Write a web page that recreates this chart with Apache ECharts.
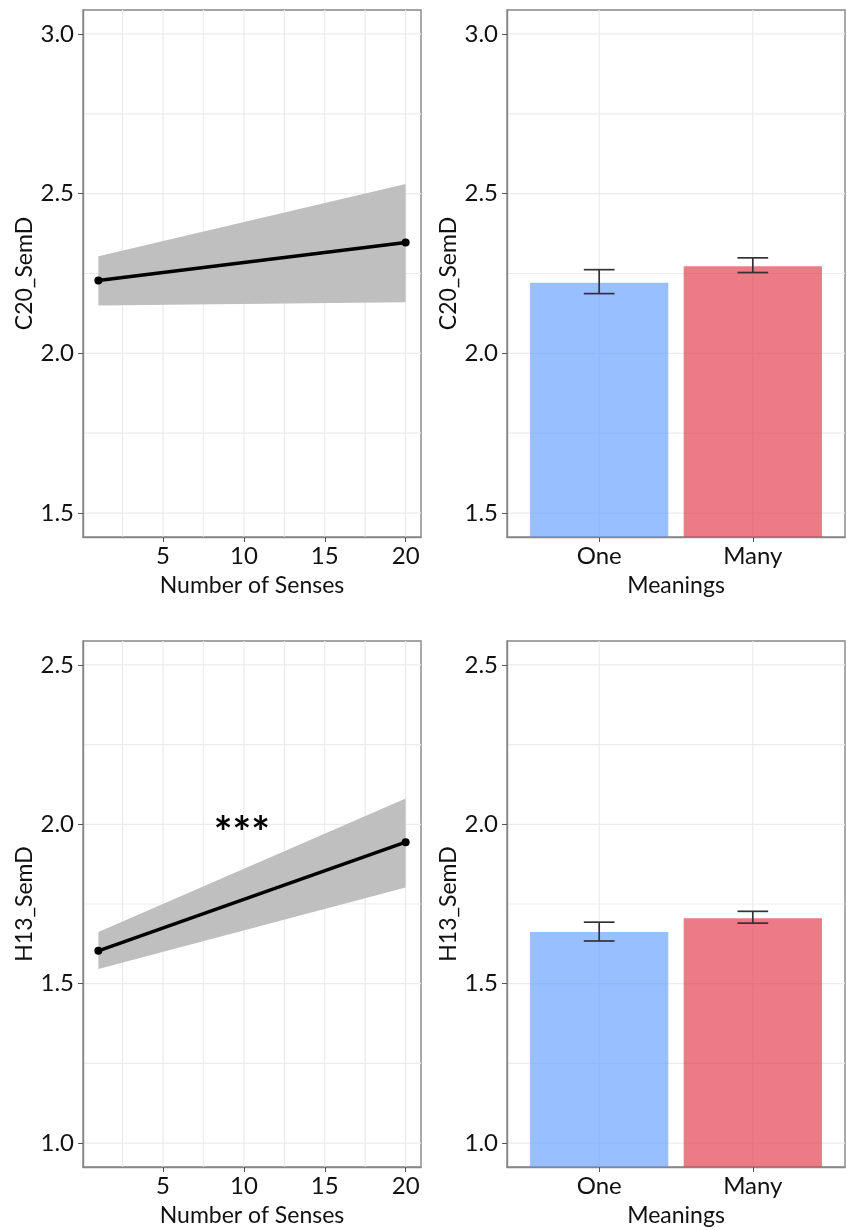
<!DOCTYPE html>
<html><head><meta charset="utf-8">
<script src="https://cdn.jsdelivr.net/npm/echarts@6/dist/echarts.min.js"></script>
<style>html,body{margin:0;padding:0;background:#fff}#c{width:847px;height:1230px}</style>
</head><body><div id="c"></div>
<script>
// ---------- data ----------
const sensesX = [1, 20];
const c20Fit = [2.228, 2.347];
const c20Lower = [2.150, 2.160];
const c20Upper = [2.304, 2.530];
const h13Fit = [1.603, 1.944];
const h13Lower = [1.546, 1.802];
const h13Upper = [1.662, 2.081];

const meanings = ['One', 'Many'];
const meaningPos = [1, 2];
const c20Mean = [2.221, 2.273];
const c20ErrLow = [2.187, 2.253];
const c20ErrHigh = [2.262, 2.299];
const h13Mean = [1.662, 1.705];
const h13ErrLow = [1.634, 1.690];
const h13ErrHigh = [1.693, 1.727];

const sensesTicks = [5, 10, 15, 20];
const sensesGrid = [2.5, 5, 7.5, 10, 12.5, 15, 17.5, 20];
const c20Ticks = [1.5, 2.0, 2.5, 3.0];
const c20Grid = [1.5, 1.75, 2.0, 2.25, 2.5, 2.75, 3.0];
const h13Ticks = [1.0, 1.5, 2.0, 2.5];
const h13Grid = [1.0, 1.25, 1.5, 1.75, 2.0, 2.25, 2.5];

const annotX = [10];
const annotY = [2.0];
const annotText = ['***'];

// ---------- styles ----------
const FONT = 'Lato';
const barColors = ['rgba(97,156,255,0.65)', 'rgba(226,52,69,0.65)'];
const gridColor = '#ebebeb';
const frameColor = '#878787';
const textColor = '#111';

function xAxisDef(gi, min, max, ticks, name, fmt) {
  return {
    type: 'value', gridIndex: gi, min: min, max: max, z: 10,
    name: name, nameLocation: 'middle', nameGap: 37,
    nameTextStyle: { fontFamily: FONT, fontSize: 23, color: textColor },
    axisLine: { show: true, lineStyle: { color: frameColor, width: 1.4 } },
    axisTick: { show: true, length: 5, customValues: ticks, lineStyle: { color: '#555', width: 1 } },
    axisLabel: { customValues: ticks, margin: 7, fontFamily: FONT, fontSize: 24, color: textColor, formatter: fmt },
    splitLine: { show: false }
  };
}
function yAxisDef(gi, min, max, ticks, name) {
  return {
    type: 'value', gridIndex: gi, min: min, max: max, z: 10,
    name: name, nameLocation: 'middle', nameGap: 47, nameRotate: 90,
    nameTextStyle: { fontFamily: FONT, fontSize: 23, color: textColor },
    axisLine: { show: true, lineStyle: { color: frameColor, width: 1.4 } },
    axisTick: { show: true, length: 5, customValues: ticks, lineStyle: { color: '#555', width: 1 } },
    axisLabel: { customValues: ticks, margin: 9, fontFamily: FONT, fontSize: 24, color: textColor,
      formatter: v => Number(v).toFixed(1) },
    splitLine: { show: false }
  };
}

function vGrid(ai, values) {
  return {
    type: 'custom', xAxisIndex: ai, yAxisIndex: ai, silent: true, z: 1,
    data: values.map(v => [v]), encode: { x: 0 },
    renderItem: function (params, api) {
      const cs = params.coordSys;
      const x = api.coord([api.value(0), 0])[0];
      return { type: 'line', shape: { x1: x, y1: cs.y, x2: x, y2: cs.y + cs.height },
        style: { stroke: gridColor, lineWidth: 1.2 } };
    }
  };
}
function hGrid(ai, values) {
  return {
    type: 'custom', xAxisIndex: ai, yAxisIndex: ai, silent: true, z: 1,
    data: values.map(v => [v]), encode: { y: 0 },
    renderItem: function (params, api) {
      const cs = params.coordSys;
      const y = api.coord([0, api.value(0)])[1];
      return { type: 'line', shape: { x1: cs.x, y1: y, x2: cs.x + cs.width, y2: y },
        style: { stroke: gridColor, lineWidth: 1.2 } };
    }
  };
}
function ribbon(ai, xs, lo, hi) {
  return {
    type: 'custom', xAxisIndex: ai, yAxisIndex: ai, silent: true, z: 2,
    data: xs.map((x, i) => [x, lo[i], hi[i]]), encode: { x: 0, y: [1, 2] },
    renderItem: function (params, api) {
      if (params.dataIndex !== 0) return null;
      const pts = [];
      for (let i = 0; i < xs.length; i++) pts.push(api.coord([xs[i], hi[i]]));
      for (let i = xs.length - 1; i >= 0; i--) pts.push(api.coord([xs[i], lo[i]]));
      return { type: 'polygon', shape: { points: pts }, style: { fill: '#bfbfbf' } };
    }
  };
}
function fitLine(ai, xs, ys) {
  return {
    type: 'line', xAxisIndex: ai, yAxisIndex: ai, silent: true, z: 3,
    data: xs.map((x, i) => [x, ys[i]]),
    symbol: 'circle', symbolSize: 8, showSymbol: true,
    lineStyle: { color: '#000', width: 3.4 }, itemStyle: { color: '#000' }
  };
}
function bars(ai, xs, vals) {
  return {
    type: 'custom', xAxisIndex: ai, yAxisIndex: ai, silent: true, z: 3,
    data: xs.map((x, i) => [x, vals[i]]), encode: { x: 0, y: 1 },
    renderItem: function (params, api) {
      const cs = params.coordSys;
      const p = api.coord([api.value(0), api.value(1)]);
      const w = api.size([0.9, 0])[0];
      const bottom = cs.y + cs.height;
      return { type: 'rect', shape: { x: p[0] - w / 2, y: p[1], width: w, height: bottom - p[1] },
        style: { fill: barColors[params.dataIndex] } };
    }
  };
}
function errBars(ai, xs, lo, hi) {
  return {
    type: 'custom', xAxisIndex: ai, yAxisIndex: ai, silent: true, z: 4,
    data: xs.map((x, i) => [x, lo[i], hi[i]]), encode: { x: 0, y: [1, 2] },
    renderItem: function (params, api) {
      const x = api.value(0);
      const pl = api.coord([x, api.value(1)]);
      const ph = api.coord([x, api.value(2)]);
      const hw = api.size([0.2, 0])[0] / 2;
      const st = { stroke: '#333', lineWidth: 1.7 };
      return { type: 'group', children: [
        { type: 'line', shape: { x1: pl[0], y1: pl[1], x2: ph[0], y2: ph[1] }, style: st },
        { type: 'line', shape: { x1: pl[0] - hw, y1: pl[1], x2: pl[0] + hw, y2: pl[1] }, style: st },
        { type: 'line', shape: { x1: ph[0] - hw, y1: ph[1], x2: ph[0] + hw, y2: ph[1] }, style: st }
      ] };
    }
  };
}
function annotation(ai, xs, ys, texts) {
  return {
    type: 'custom', xAxisIndex: ai, yAxisIndex: ai, silent: true, z: 5,
    data: xs.map((x, i) => [x, ys[i]]), encode: { x: 0, y: 1 },
    renderItem: function (params, api) {
      const p = api.coord([api.value(0), api.value(1)]);
      return { type: 'text', x: p[0] - 2, y: p[1] + 10,
        style: { text: texts[params.dataIndex], fontFamily: FONT, fontSize: 44, fontWeight: 'bold',
          fill: '#000', align: 'center', verticalAlign: 'middle' } };
    }
  };
}

const catFmt = v => { const i = meaningPos.indexOf(Math.round(v)); return i >= 0 ? meanings[i] : ''; };

const chart = echarts.init(document.getElementById('c'), null, { renderer: 'canvas' });
chart.setOption({
  backgroundColor: '#fff',
  animation: false,
  grid: [
    { left: 83, top: 10, width: 338, height: 527, show: true, borderColor: frameColor, borderWidth: 1.4, backgroundColor: '#fff' },
    { left: 507, top: 10, width: 338, height: 527, show: true, borderColor: frameColor, borderWidth: 1.4, backgroundColor: '#fff' },
    { left: 83, top: 641, width: 338, height: 526, show: true, borderColor: frameColor, borderWidth: 1.4, backgroundColor: '#fff' },
    { left: 507, top: 641, width: 338, height: 526, show: true, borderColor: frameColor, borderWidth: 1.4, backgroundColor: '#fff' }
  ],
  xAxis: [
    xAxisDef(0, 0.05, 20.95, sensesTicks, 'Number of Senses', v => String(v)),
    xAxisDef(1, 0.4, 2.6, meaningPos, 'Meanings', catFmt),
    xAxisDef(2, 0.05, 20.95, sensesTicks, 'Number of Senses', v => String(v)),
    xAxisDef(3, 0.4, 2.6, meaningPos, 'Meanings', catFmt)
  ],
  yAxis: [
    yAxisDef(0, 1.425, 3.075, c20Ticks, 'C20_SemD'),
    yAxisDef(1, 1.425, 3.075, c20Ticks, 'C20_SemD'),
    yAxisDef(2, 0.925, 2.575, h13Ticks, 'H13_SemD'),
    yAxisDef(3, 0.925, 2.575, h13Ticks, 'H13_SemD')
  ],
  series: [
    vGrid(0, sensesGrid), hGrid(0, c20Grid),
    ribbon(0, sensesX, c20Lower, c20Upper), fitLine(0, sensesX, c20Fit),
    vGrid(1, meaningPos), hGrid(1, c20Grid),
    bars(1, meaningPos, c20Mean), errBars(1, meaningPos, c20ErrLow, c20ErrHigh),
    vGrid(2, sensesGrid), hGrid(2, h13Grid),
    ribbon(2, sensesX, h13Lower, h13Upper), fitLine(2, sensesX, h13Fit),
    annotation(2, annotX, annotY, annotText),
    vGrid(3, meaningPos), hGrid(3, h13Grid),
    bars(3, meaningPos, h13Mean), errBars(3, meaningPos, h13ErrLow, h13ErrHigh)
  ]
});
</script></body></html>
